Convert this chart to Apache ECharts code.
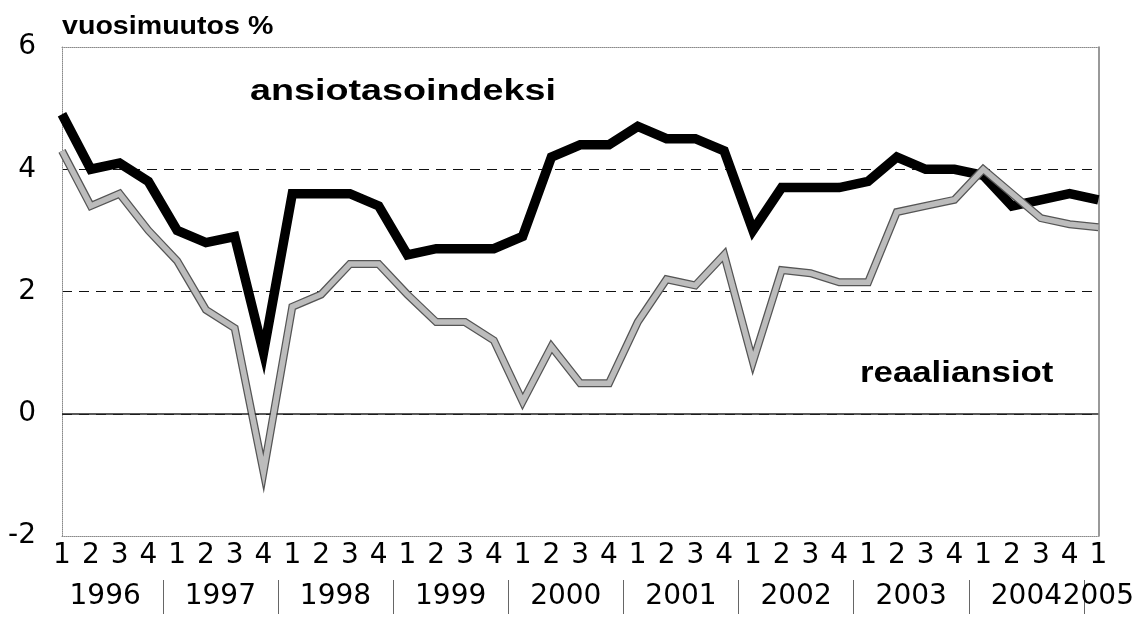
<!DOCTYPE html>
<html>
<head>
<meta charset="utf-8">
<script src="https://cdn.jsdelivr.net/npm/echarts@6/dist/echarts.min.js"></script>
<style>
html,body{margin:0;padding:0;background:#fff;}
#chart{width:1137px;height:620px;}
</style>
</head>
<body>
<div id="chart"></div>
<script>
// ---- data ----
const years = ['1996','1997','1998','1999','2000','2001','2002','2003','2004','2005'];
const quarterLabels = ['1','2','3','4','1','2','3','4','1','2','3','4','1','2','3','4','1','2','3','4',
                       '1','2','3','4','1','2','3','4','1','2','3','4','1','2','3','4','1'];
const ansiotasoindeksi = [4.9, 4.0, 4.1, 3.8, 3.0, 2.8, 2.9, 1.0, 3.6, 3.6, 3.6, 3.4,
                          2.6, 2.7, 2.7, 2.7, 2.9, 4.2, 4.4, 4.4, 4.7, 4.5, 4.5, 4.3,
                          3.0, 3.7, 3.7, 3.7, 3.8, 4.2, 4.0, 4.0, 3.9, 3.4, 3.5, 3.6, 3.5];
const reaaliansiot = [4.3, 3.4, 3.6, 3.0, 2.5, 1.7, 1.4, -0.95, 1.75, 1.95, 2.45, 2.45,
                      1.95, 1.5, 1.5, 1.2, 0.2, 1.1, 0.5, 0.5, 1.5, 2.2, 2.1, 2.6,
                      0.85, 2.35, 2.3, 2.15, 2.15, 3.3, 3.4, 3.5, 4.0, 3.6, 3.2, 3.1, 3.05];
const yMin = -2, yMax = 6, yStep = 2;
const zeroLine = 0;
const yAxisTitle = 'vuosimuutos %';
const seriesNames = ['ansiotasoindeksi', 'reaaliansiot'];

// year label positions (in quarter index units) and separators between years
const lastIndex = quarterLabels.length - 1;
const yearLabelPos = years.map((y, k) => k < years.length - 1 ? 4 * k + 1.5 : lastIndex);
const yearSeparators = years.slice(0, -1).map((y, k) => 4 * k + 3.5);

const FONT = 'Liberation Sans, Arial, sans-serif';
const AXFONT = 'DejaVu Sans, sans-serif';
const FS = 28;

const chart = echarts.init(document.getElementById('chart'), null, {renderer: 'canvas'});
chart.setOption({
  animation: false,
  backgroundColor: '#ffffff',
  grid: {left: 62, right: 37, top: 47, bottom: 84, containLabel: false},
  xAxis: [
    {
      type: 'category',
      data: quarterLabels,
      boundaryGap: false,
      position: 'bottom',
      axisLine: {show: true, onZero: false, lineStyle: {color: '#8a8a8a', type: 'dotted', width: 1}},
      axisTick: {show: false},
      axisLabel: {interval: 0, fontSize: FS, color: '#000', fontFamily: AXFONT, margin: 6},
      splitLine: {show: false}
    },
    {
      type: 'value',
      min: 0, max: lastIndex,
      position: 'bottom',
      offset: 44,
      axisLine: {show: false, onZero: false},
      axisTick: {show: true, customValues: yearSeparators, length: 34, lineStyle: {color: '#666', width: 1}},
      axisLabel: {
        customValues: yearLabelPos,
        fontSize: FS, color: '#000', fontFamily: AXFONT, margin: 3,
        formatter: function (v) {
          const idx = yearLabelPos.indexOf(v);
          return idx >= 0 ? years[idx] : '';
        }
      },
      splitLine: {show: false}
    },
    {
      type: 'value',
      min: 0, max: lastIndex,
      position: 'top',
      axisLine: {show: true, onZero: false, lineStyle: {color: '#8a8a8a', type: 'dotted', width: 1}},
      axisTick: {show: false},
      axisLabel: {show: false},
      splitLine: {show: false}
    }
  ],
  yAxis: [
    {
      type: 'value',
      min: yMin, max: yMax, interval: yStep,
      position: 'left',
      axisLine: {show: true, onZero: false, lineStyle: {color: '#8a8a8a', type: 'dotted', width: 1}},
      axisTick: {show: false},
      axisLabel: {fontSize: FS, color: '#000', fontFamily: AXFONT, margin: 26},
      splitLine: {show: true, showMinLine: false, showMaxLine: false,
                  lineStyle: {color: '#111', type: [10, 7], width: 1}}
    },
    {
      type: 'value',
      min: yMin, max: yMax, interval: yStep,
      position: 'right',
      axisLine: {show: true, onZero: false, lineStyle: {color: '#777', width: 1.5}},
      axisTick: {show: false},
      axisLabel: {show: false},
      splitLine: {show: false}
    }
  ],
  series: [
    {
      name: seriesNames[0],
      type: 'line',
      data: ansiotasoindeksi,
      symbol: 'none',
      z: 3,
      lineStyle: {color: '#000', width: 9.5, join: 'miter', miterLimit: 30, cap: 'butt'},
      markLine: {
        silent: true,
        symbol: ['none', 'none'],
        label: {show: false},
        lineStyle: {color: '#222', type: 'solid', width: 1.5},
        data: [{yAxis: zeroLine}]
      }
    },
    {
      name: seriesNames[1],
      type: 'line',
      data: reaaliansiot,
      symbol: 'none',
      z: 4,
      lineStyle: {color: '#555', width: 8, join: 'miter', miterLimit: 30, cap: 'butt'}
    },
    {
      name: seriesNames[1] + '_fill',
      type: 'line',
      data: reaaliansiot,
      symbol: 'none',
      z: 5,
      lineStyle: {color: '#bcbcbc', width: 5.5, join: 'miter', miterLimit: 30, cap: 'butt'}
    }
  ],
  graphic: [
    {
      type: 'text', x: 62, y: 27, scaleX: 1.1,
      style: {text: yAxisTitle, font: 'bold 26px ' + FONT, fill: '#000', verticalAlign: 'middle', align: 'left'}
    },
    {
      type: 'text', x: 250, y: 92, scaleX: 1.3,
      style: {text: seriesNames[0], font: 'bold 29px ' + FONT, fill: '#000', verticalAlign: 'middle', align: 'left'}
    },
    {
      type: 'text', x: 860, y: 374, scaleX: 1.2,
      style: {text: seriesNames[1], font: 'bold 29px ' + FONT, fill: '#000', verticalAlign: 'middle', align: 'left'}
    }
  ]
});
</script>
</body>
</html>
